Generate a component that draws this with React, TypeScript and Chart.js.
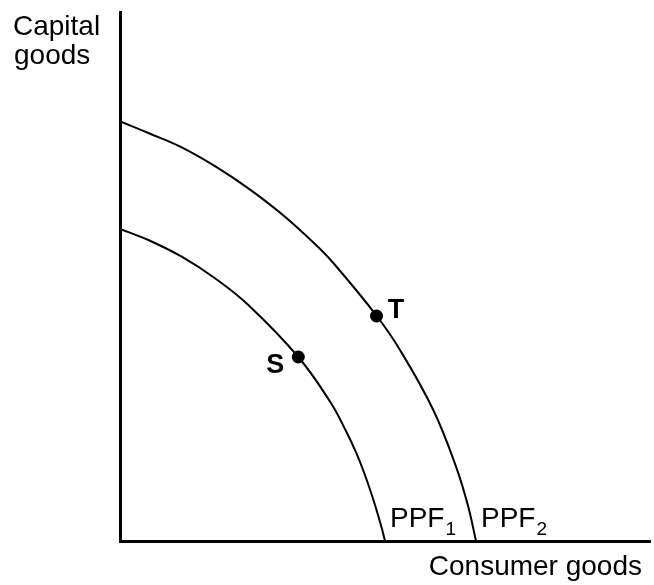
import React, { useEffect, useRef } from "react";
import { Chart, registerables } from "chart.js";

Chart.register(...registerables);

// Axis extents (data units)
const xMax = 10;
const yMax = 10;

// PPF1 curve (consumer goods, capital goods)
const ppf1X = [0, 0.534, 1.164, 1.792, 2.421, 3.364, 3.962, 4.245, 4.466, 4.655, 4.811, 4.938, 5.0];
const ppf1Y = [5.898, 5.69, 5.374, 4.966, 4.461, 3.478, 2.637, 2.117, 1.645, 1.153, 0.681, 0.246, 0];

// PPF2 curve
const ppf2X = [0, 0.534, 1.164, 1.792, 2.421, 3.051, 3.679, 4.025, 4.83, 5.283, 5.911, 6.353, 6.572, 6.717];
const ppf2Y = [7.93, 7.713, 7.442, 7.087, 6.667, 6.181, 5.614, 5.255, 4.272, 3.611, 2.476, 1.369, 0.643, 0];

// Marked points
const pointNames = ["S", "T"];
const pointX = [3.364, 4.84];
const pointY = [3.478, 4.253];

// Texts
const curveNames = ["PPF", "PPF"];
const curveSubs = ["1", "2"];
const yAxisLabel = ["Capital", "goods"];
const xAxisLabel = "Consumer goods";

const FONT = '"Liberation Sans", Arial, Helvetica, sans-serif';

const toXY = (xs: number[], ys: number[]) => xs.map((x, i) => ({ x, y: ys[i] }));

const textPlugin = {
  id: "diagramTexts",
  afterDatasetsDraw(chart: any) {
    const { ctx, chartArea } = chart;
    const xs = chart.scales.x;
    const ys = chart.scales.y;
    ctx.save();
    ctx.fillStyle = "#000";
    ctx.textBaseline = "alphabetic";

    // y-axis label
    ctx.font = `28px ${FONT}`;
    ctx.textAlign = "left";
    ctx.fillText(yAxisLabel[0], 13, chartArea.top + 22.5);
    ctx.fillText(yAxisLabel[1], 14, chartArea.top + 51.5);

    // x-axis label
    ctx.textAlign = "right";
    ctx.fillText(xAxisLabel, chartArea.right - 8, chartArea.bottom + 34);

    // curve labels
    const ends = [ppf1X[ppf1X.length - 1], ppf2X[ppf2X.length - 1]];
    ctx.textAlign = "left";
    ends.forEach((xe, i) => {
      const left = xs.getPixelForValue(xe) + 5;
      ctx.font = `28px ${FONT}`;
      ctx.fillText(curveNames[i], left, chartArea.bottom - 14);
      const w = ctx.measureText(curveNames[i]).width;
      ctx.font = `19px ${FONT}`;
      ctx.fillText(curveSubs[i], left + w + 1, chartArea.bottom - 6);
    });

    // point labels
    const offs = [
      { dx: -23, dy: 16 },
      { dx: 19.5, dy: 2 },
    ];
    ctx.font = `bold 27px ${FONT}`;
    ctx.textAlign = "center";
    pointNames.forEach((n, i) => {
      const px = xs.getPixelForValue(pointX[i]);
      const py = ys.getPixelForValue(pointY[i]);
      ctx.fillText(n, px + offs[i].dx, py + offs[i].dy);
    });
    ctx.restore();
  },
};

export default function App() {
  const ref = useRef<HTMLCanvasElement>(null);

  useEffect(() => {
    if (!ref.current) return;
    const chart = new Chart(ref.current, {
      type: "scatter",
      data: {
        datasets: [
          {
            label: "PPF1",
            data: toXY(ppf1X, ppf1Y),
            showLine: true,
            borderColor: "#000",
            borderWidth: 2,
            pointRadius: 0,
            tension: 0.4,
            fill: false,
          },
          {
            label: "PPF2",
            data: toXY(ppf2X, ppf2Y),
            showLine: true,
            borderColor: "#000",
            borderWidth: 2,
            pointRadius: 0,
            tension: 0.4,
            fill: false,
          },
          {
            label: "Points",
            data: toXY(pointX, pointY),
            showLine: false,
            pointRadius: 6.5,
            pointBackgroundColor: "#000",
            pointBorderColor: "#000",
            pointBorderWidth: 0,
          },
        ],
      },
      options: {
        animation: false,
        responsive: false,
        layout: { padding: { left: 120, top: 12, right: 4, bottom: 44 }, autoPadding: false },
        plugins: {
          legend: { display: false },
          tooltip: { enabled: false },
        },
        scales: {
          x: {
            type: "linear",
            min: 0,
            max: xMax,
            ticks: { display: false },
            grid: { display: false, drawTicks: false },
            border: { display: true, width: 3, color: "#000" },
          },
          y: {
            type: "linear",
            min: 0,
            max: yMax,
            ticks: { display: false },
            grid: { display: false, drawTicks: false },
            border: { display: true, width: 3, color: "#000" },
          },
        },
      },
      plugins: [textPlugin],
    } as any);
    return () => chart.destroy();
  }, []);

  return (
    <div style={{ position: "fixed", left: 0, top: 0, width: 654, height: 585, background: "#fff" }}>
      <canvas ref={ref} width={654} height={585} style={{ display: "block" }} />
    </div>
  );
}
